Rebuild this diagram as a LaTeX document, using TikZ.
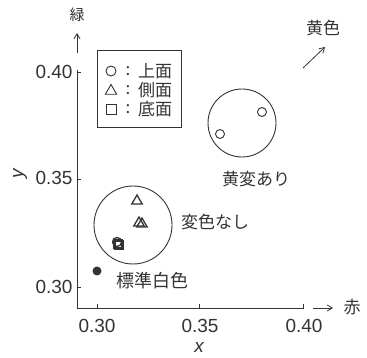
\documentclass[tikz,border=0pt]{standalone}
\usepackage{fontspec}
\setmainfont{Liberation Sans}
\newfontfamily\jp{Noto Sans CJK JP}
\usetikzlibrary{arrows.meta,shapes.geometric}
\tikzset{
  ax/.style={line width=0.9pt, draw=black!80},
  num/.style={font=\fontsize{19}{19}\selectfont, text=black!80, inner sep=0pt},
  jlab/.style={font=\jp\fontsize{17}{17}\selectfont, text=black!80, inner sep=0pt},
  pt/.style={draw=black!80, line width=0.9pt},
  tri/.style={pt, regular polygon, regular polygon sides=3, minimum size=13pt, inner sep=0pt},
  arr/.style={-{Straight Barb[length=5pt,width=6pt]}, line width=0.8pt, draw=black!80}
}
\begin{document}
\begin{tikzpicture}[x=1pt,y=-1pt]
\useasboundingbox (0,0) rectangle (367,358);
% axes
\coordinate (O) at (77,308);
\coordinate (ytop) at (77,70);
\coordinate (xend) at (304,308);
\draw[ax] (ytop) -- (O) -- (xend);
% y ticks
\foreach \yy in {72,179,287} \draw[ax] (77,\yy) -- (81,\yy);
% x ticks
\foreach \xx in {97,199,303} \draw[ax] (\xx,308) -- (\xx,304);
% tick labels
\node[num] (y40) at (54,72) {0.40};
\node[num] (y35) at (54,178) {0.35};
\node[num] (y30) at (54,287) {0.30};
\node[num] (x30) at (97,326) {0.30};
\node[num] (x35) at (200,326) {0.35};
\node[num] (x40) at (304,326) {0.40};
\node[num, font=\itshape\fontsize{19}{19}\selectfont] (xl) at (199,347) {x};
\node[num, rotate=90, font=\itshape\fontsize{19}{19}\selectfont] (yl) at (20,174) {y};
% axis arrows
\coordinate (ya0) at (77,53);
\coordinate (ya1) at (77,33);
\draw[arr] (ya0) -- (ya1);
\node[jlab, font=\jp\fontsize{15}{15}\selectfont] (green) at (77,15) {緑};
\coordinate (xa0) at (313,308);
\coordinate (xa1) at (333,308);
\draw[arr] (xa0) -- (xa1);
\node[jlab] (red) at (352,307) {赤};
% yellow direction
\coordinate (ye0) at (303,68);
\coordinate (ye1) at (325,47);
\draw[arr] (ye0) -- (ye1);
\node[jlab] (yellow) at (323,28) {黄色};
% legend
\node[draw=black!80, line width=0.8pt, minimum width=84pt, minimum height=77pt] (leg) at (139,88.5) {};
\node[pt, circle, minimum size=10pt, inner sep=0pt] (lc) at (111,71) {};
\node[tri] (lt) at (111,91) {};
\node[pt, rectangle, minimum size=10pt, inner sep=0pt] (ls) at (111,109) {};
\foreach \yy/\t in {71/上面,90/側面,109/底面} {
  \node[jlab] at (128,\yy) {:};
  \node[jlab] at (155,\yy) {\t};
}
% yellowed circle
\node[pt, circle, minimum size=68pt, inner sep=0pt] (yc) at (242,123) {};
\node[pt, circle, minimum size=9pt, inner sep=0pt] (p1) at (262,112) {};
\node[pt, circle, minimum size=9pt, inner sep=0pt] (p2) at (220,134) {};
\node[jlab] (yl2) at (256,179) {黄変あり};
% no change circle
\node[pt, circle, minimum size=78pt, inner sep=0pt] (nc) at (133,225) {};
\node[tri, minimum size=12pt, line width=1.3pt] (t1) at (137,201) {};
\node[tri, minimum size=12pt, line width=1.3pt] (t2) at (139,223) {};
\node[tri, minimum size=12pt, line width=1.3pt] (t3) at (142,224) {};
\node[pt, circle, minimum size=9pt, inner sep=0pt, line width=1.3pt] (c3) at (117,242) {};
\node[pt, rectangle, minimum size=8pt, inner sep=0pt, line width=1.3pt] (s1) at (118,244) {};
\node[pt, rectangle, minimum size=8pt, inner sep=0pt, line width=1.3pt] (s2) at (119,245) {};
\node[jlab] (nl) at (215,222) {変色なし};
% standard white
\node[circle, fill=black!80, minimum size=9pt, inner sep=0pt] (sw) at (97,271) {};
\node[jlab, font=\jp\fontsize{18}{18}\selectfont] (swl) at (152,281) {標準白色};
\end{tikzpicture}
\end{document}
